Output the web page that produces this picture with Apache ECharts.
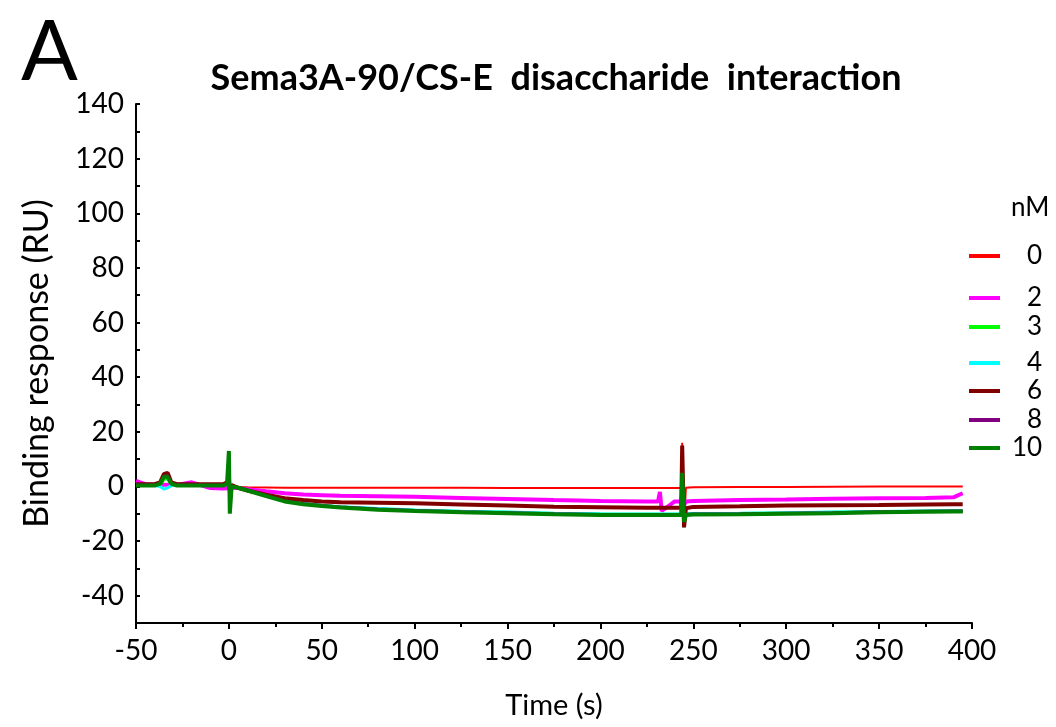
<!DOCTYPE html>
<html><head><meta charset="utf-8">
<script src="https://cdn.jsdelivr.net/npm/echarts@6/dist/echarts.min.js"></script>
<style>html,body{margin:0;padding:0;background:#fff}#c{width:1056px;height:727px}</style>
</head><body><div id="c"></div>
<script>
const times = [-50,-45,-40,-37,-35,-33,-31,-28,-20,-10,-3,-1,0,0.5,1.5,5,10,20,30,40,50,60,80,100,125,150,175,200,225,231,232,233,240,243.5,244,245,246,247,250,275,300,325,350,375,390,395];
const s0  = [0.5,0.5,0.5,1,3.5,4.5,1,0.5,0.5,0.3,0.3,1,2,-1,0,-0.2,-0.3,-0.4,-0.5,-0.5,-0.5,-0.5,-0.5,-0.5,-0.5,-0.6,-0.6,-0.6,-0.6,-0.6,-0.6,-0.6,-0.6,-0.6,16,-14,-0.5,-0.3,-0.3,-0.2,-0.2,-0.1,0,0,0,0];
const s2  = [2,0.8,0.5,0.5,0.6,0.6,0.5,0.5,1.5,-0.6,-0.8,-0.7,0.5,-0.5,-0.3,-0.6,-1,-1.8,-2.5,-3,-3.2,-3.4,-3.6,-3.8,-4.2,-4.6,-5,-5.3,-5.5,-5.5,-2,-9,-5.5,-5.5,-3,-7,-5.5,-5.4,-5.3,-5,-4.8,-4.5,-4.3,-4.2,-4,-2.5];
const s3  = [0.3,0.3,0.3,0.5,2.5,3,0.5,0.3,0.3,0.3,0.3,0.8,4,-4,0,-0.5,-1.4,-3.4,-5.3,-6.3,-7,-7.5,-8.2,-8.7,-9.2,-9.5,-9.9,-10.1,-10.2,-10.2,-10.2,-10.2,-10.2,-10.2,2,-12,-10,-10,-10,-9.9,-9.7,-9.5,-9.3,-9.1,-9,-9];
const s4  = [0.3,0.3,0.3,0,-1,-0.5,0.3,0.3,0.3,0.3,0.3,0.8,3,-3,0,-0.5,-1.4,-3.3,-5.2,-6.2,-6.9,-7.4,-8.1,-8.6,-9.1,-9.4,-9.8,-10,-10.1,-10.1,-10.1,-10.1,-10.1,-10.1,0,-15,-10,-10,-9.9,-9.8,-9.6,-9.4,-9.2,-9,-8.9,-8.9];
const s6  = [0.8,0.8,0.8,1.5,4.5,5,1.5,0.8,0.8,0.8,0.8,1.5,3,-2,0.5,-0.5,-1.5,-3,-4.3,-5,-5.5,-5.8,-6,-6.2,-6.6,-7,-7.4,-7.6,-7.8,-7.8,-7.8,-7.8,-7.8,-7.8,15,-15,-8,-7.7,-7.5,-7.3,-7,-6.9,-6.8,-6.6,-6.5,-6.5];
const s8  = [0.4,0.4,0.4,1,3.5,4,1,0.4,0.4,0.4,0.4,1,4,-4,0,-0.5,-1.5,-3.4,-5.3,-6.3,-7,-7.5,-8.3,-8.8,-9.3,-9.6,-10,-10.3,-10.3,-10.3,-10.3,-10.3,-10.3,-10.3,3,-12,-10.3,-10.2,-10.1,-10,-9.8,-9.6,-9.3,-9.1,-9,-9];
const s10 = [0.3,0.3,0.3,1,3.5,3.5,1,0.3,0.3,0.3,0.3,1,13,-10,0,-0.5,-1.5,-3.5,-5.5,-6.5,-7.2,-7.7,-8.5,-9,-9.5,-9.8,-10.2,-10.5,-10.5,-10.5,-10.5,-10.5,-10.5,-10.5,5,-13,-10.5,-10.4,-10.3,-10.2,-10,-9.8,-9.5,-9.3,-9.2,-9.2];
const seriesNames = ['0','2','3','4','6','8','10'];
const seriesColors = ['#ff0000','#ff00ff','#00ff00','#00ffff','#800000','#800080','#008000'];
const seriesWidths = [2,4,3,3,4,3,4];
const seriesValues = [s0,s2,s3,s4,s6,s8,s10];
const legendTops = [238,280,309,345,373,402,430];
const legendPads = [22,22,22,22,22,22,7];
const yTicks = [-40,-20,0,20,40,60,80,100,120,140];
const FONT = 'Lato, "Open Sans", sans-serif';

const chart = echarts.init(document.getElementById('c'));
const series = seriesNames.map((n,i)=>({
  name:n, type:'line', showSymbol:false, symbol:'none', animation:false,
  data: times.map((t,j)=>[t, seriesValues[i][j]]),
  lineStyle:{color:seriesColors[i], width:seriesWidths[i]}, itemStyle:{color:seriesColors[i]}, z:2+i
}));
const legends = seriesNames.map((n,i)=>({
  data:[n], left:964, top:legendTops[i], orient:'vertical', icon:'rect', itemWidth:31, itemHeight:4,
  itemGap:0, selectedMode:false,
  textStyle:{fontFamily:FONT, fontSize:26, color:'#000', padding:[0,0,0,legendPads[i]]}
}));
chart.setOption({
  animation:false,
  title:[
    {text:'Sema3A-90/CS-E  disaccharide  interaction', left:551, top:55, textAlign:'center',
     textStyle:{fontFamily:FONT, fontSize:36, fontWeight:'bold', color:'#000'}},
    {text:'A', left:16, top:6, textStyle:{fontFamily:FONT, fontSize:84, fontWeight:'normal', color:'#000'}},
    {text:'nM', left:1006, top:190, textStyle:{fontFamily:FONT, fontSize:26, fontWeight:'normal', color:'#000'}}
  ],
  legend:legends,
  grid:{left:136, right:84, top:104, bottom:104, containLabel:false},
  xAxis:{type:'value', min:-50, max:400, interval:50,
    name:'Time (s)', nameLocation:'middle', nameGap:68,
    nameTextStyle:{fontFamily:FONT, fontSize:29, color:'#000'},
    axisLine:{show:true, onZero:false, lineStyle:{color:'#000', width:2}},
    axisTick:{show:true, length:6, lineStyle:{color:'#000', width:2}},
    minorTick:{show:true, splitNumber:2, length:4, lineStyle:{color:'#000', width:2}},
    splitLine:{show:false},
    axisLabel:{fontFamily:FONT, fontSize:28, color:'#000', margin:14}
  },
  yAxis:{type:'value', min:-50, max:140, interval:10,
    name:'Binding response (RU)', nameLocation:'middle', nameGap:82,
    nameTextStyle:{fontFamily:FONT, fontSize:34, color:'#000'},
    axisLine:{show:true, onZero:false, lineStyle:{color:'#000', width:2}},
    axisTick:{show:true, inside:true, length:4, lineStyle:{color:'#000', width:2}},
    splitLine:{show:false},
    axisLabel:{fontFamily:FONT, fontSize:28, color:'#000', margin:12,
      formatter:v=> yTicks.indexOf(v)>=0 ? String(v) : ''}
  },
  series:series
});
</script></body></html>
